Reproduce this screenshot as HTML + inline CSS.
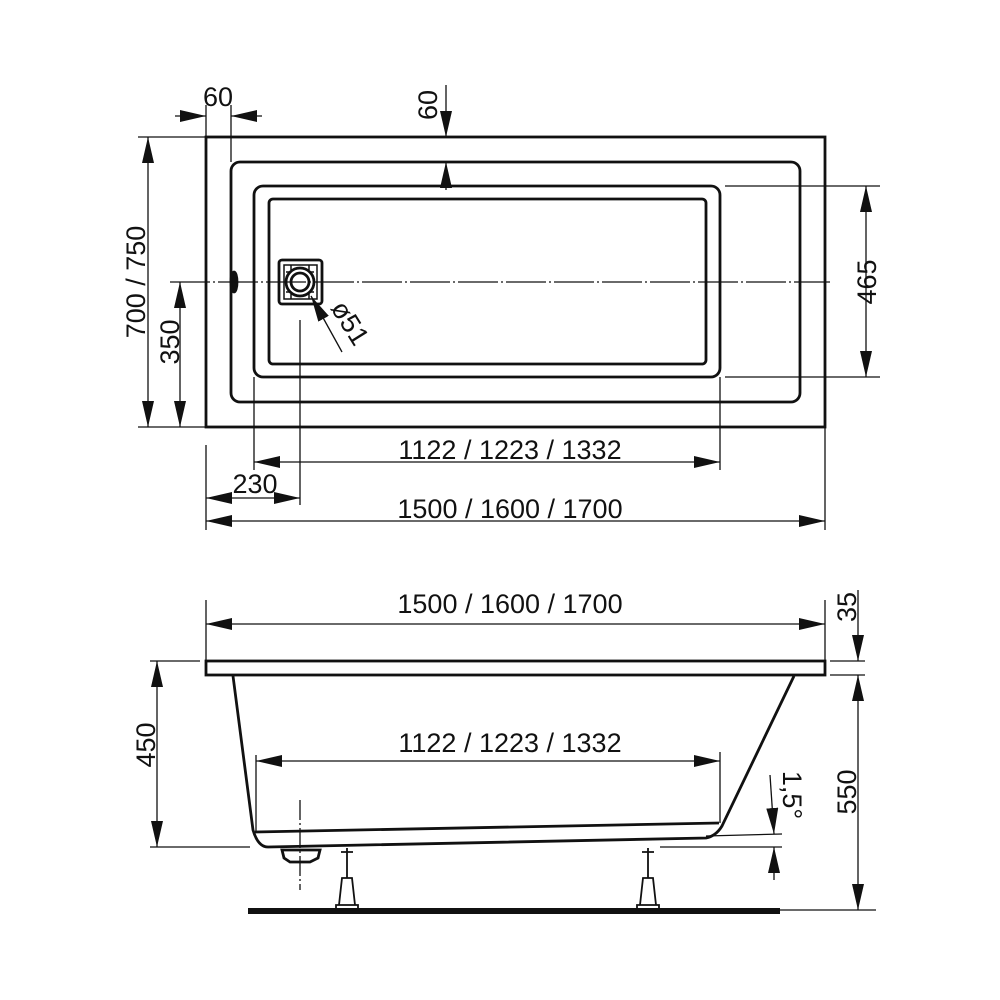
<!DOCTYPE html>
<html><head><style>body{margin:0;background:#fff}svg{display:block}text{font-family:"Liberation Sans",sans-serif;font-size:27px;fill:#111}</style></head><body>
<svg width="1000" height="1000" viewBox="0 0 1000 1000" xmlns="http://www.w3.org/2000/svg">
<defs><marker id="a" viewBox="0 0 26 12" refX="26" refY="6" markerWidth="26" markerHeight="12" markerUnits="userSpaceOnUse" orient="auto-start-reverse" preserveAspectRatio="none"><path d="M0,0 L26,6 L0,12z" fill="#111"/></marker></defs>
<g fill="none" stroke="#111" stroke-width="2.8">
<rect x="206" y="137" width="619" height="290"/>
<rect x="231" y="162" width="569" height="240" rx="9"/>
<rect x="254" y="186" width="466" height="191" rx="9"/>
<rect x="269" y="199" width="437" height="165" rx="4"/>
<rect x="279" y="260" width="43" height="44" rx="3"/>
<circle cx="300" cy="282" r="14"/><circle cx="300" cy="282" r="9"/>
<ellipse cx="234" cy="282" rx="3" ry="10" fill="#111"/>
</g>
<g stroke="#111" stroke-width="1.5" fill="none">
<path d="M284,265 h33 v34 h-33z M286,272 h5 M309,272 h5 M286,292 h5 M309,292 h5 M291,265 v5 M309,265 v5 M291,294 v5 M309,294 v5"/>
</g>
<g stroke="#111" stroke-width="1.3" fill="none">
<line x1="170" y1="282" x2="830" y2="282" stroke-dasharray="40,3,2,3"/>
<line x1="300" y1="320" x2="300" y2="505"/>
<line x1="206" y1="105" x2="206" y2="137"/><line x1="231" y1="105" x2="231" y2="162"/>
<line x1="175" y1="116" x2="206" y2="116" marker-end="url(#a)"/><line x1="262" y1="116" x2="231" y2="116" marker-end="url(#a)"/>
<line x1="446" y1="85" x2="446" y2="137" marker-end="url(#a)"/><line x1="446" y1="190" x2="446" y2="162" marker-end="url(#a)"/>
<line x1="138" y1="137" x2="206" y2="137"/><line x1="138" y1="427" x2="206" y2="427"/>
<line x1="148" y1="137" x2="148" y2="427" marker-start="url(#a)" marker-end="url(#a)"/>
<line x1="180" y1="282" x2="180" y2="427" marker-start="url(#a)" marker-end="url(#a)"/>
<line x1="725" y1="186" x2="880" y2="186"/><line x1="725" y1="377" x2="880" y2="377"/>
<line x1="866" y1="186" x2="866" y2="377" marker-start="url(#a)" marker-end="url(#a)"/>
<line x1="254" y1="377" x2="254" y2="470"/><line x1="720" y1="377" x2="720" y2="470"/>
<line x1="254" y1="462" x2="720" y2="462" marker-start="url(#a)" marker-end="url(#a)"/>
<line x1="206" y1="445" x2="206" y2="530"/><line x1="825" y1="427" x2="825" y2="530"/>
<line x1="206" y1="498" x2="300" y2="498" marker-start="url(#a)" marker-end="url(#a)"/>
<line x1="206" y1="521" x2="825" y2="521" marker-start="url(#a)" marker-end="url(#a)"/>
<line x1="342" y1="352" x2="311" y2="296" marker-end="url(#a)"/>
</g>
<text x="218" y="106" text-anchor="middle">60</text>
<text transform="translate(437,105) rotate(-90)" text-anchor="middle">60</text>
<text transform="translate(145,282) rotate(-90)" text-anchor="middle">700 / 750</text>
<text transform="translate(179,342) rotate(-90)" text-anchor="middle">350</text>
<text transform="translate(876,282) rotate(-90)" text-anchor="middle">465</text>
<text transform="translate(330,308) rotate(58)">ø51</text>
<text x="510" y="459" text-anchor="middle">1122 / 1223 / 1332</text>
<text x="255" y="493" text-anchor="middle">230</text>
<text x="510" y="518" text-anchor="middle">1500 / 1600 / 1700</text>
<g fill="none" stroke="#111" stroke-width="2.8">
<rect x="206" y="661" width="619" height="14"/>
<path d="M233,676 L253,830 Q258,847 268,847 L706,838 Q716,836 722,826 L794,676"/>
<path d="M255,832 L719,823"/>
<path d="M282,850 L320,850 L318,858 L310,862 L290,862 L284,858 Z"/>
</g>
<rect x="248" y="908" width="532" height="6" fill="#111"/>
<g stroke="#111" stroke-width="1.3" fill="none">
<line x1="780" y1="910" x2="876" y2="910"/>
<line x1="206" y1="600" x2="206" y2="661"/><line x1="825" y1="600" x2="825" y2="661"/>
<line x1="206" y1="624" x2="825" y2="624" marker-start="url(#a)" marker-end="url(#a)"/>
<line x1="150" y1="661" x2="200" y2="661"/><line x1="150" y1="847" x2="250" y2="847"/>
<line x1="157" y1="661" x2="157" y2="847" marker-start="url(#a)" marker-end="url(#a)"/>
<line x1="256" y1="755" x2="256" y2="832"/><line x1="720" y1="752" x2="720" y2="823"/>
<line x1="256" y1="761" x2="720" y2="761" marker-start="url(#a)" marker-end="url(#a)"/>
<line x1="830" y1="661" x2="865" y2="661"/><line x1="830" y1="675" x2="865" y2="675"/>
<line x1="858" y1="590" x2="858" y2="661" marker-end="url(#a)"/>
<line x1="858" y1="675" x2="858" y2="910" marker-start="url(#a)" marker-end="url(#a)"/>
<line x1="706" y1="836" x2="782" y2="834"/><line x1="660" y1="847" x2="782" y2="847"/>
<line x1="770" y1="775" x2="774" y2="834" marker-end="url(#a)"/>
<line x1="774" y1="880" x2="774" y2="847" marker-end="url(#a)"/>
<line x1="300" y1="800" x2="300" y2="890" stroke-dasharray="20,3,2,3"/>
</g>
<g stroke="#111" stroke-width="1.8" fill="none">
<path d="M341,852 L353,852 M347,848 L347,878 M342,878 L352,878 L355,905 L339,905 Z M336,905 L358,905 L358,910 L336,910 Z"/>
<path d="M642,852 L654,852 M648,848 L648,878 M643,878 L653,878 L656,905 L640,905 Z M637,905 L659,905 L659,910 L637,910 Z"/>
</g>
<text x="510" y="613" text-anchor="middle">1500 / 1600 / 1700</text>
<text transform="translate(155,745) rotate(-90)" text-anchor="middle">450</text>
<text x="510" y="752" text-anchor="middle">1122 / 1223 / 1332</text>
<text transform="translate(856,607) rotate(-90)" text-anchor="middle">35</text>
<text transform="translate(856,792) rotate(-90)" text-anchor="middle">550</text>
<text transform="translate(783,795) rotate(90)" text-anchor="middle">1,5°</text>
</svg>
</body></html>
